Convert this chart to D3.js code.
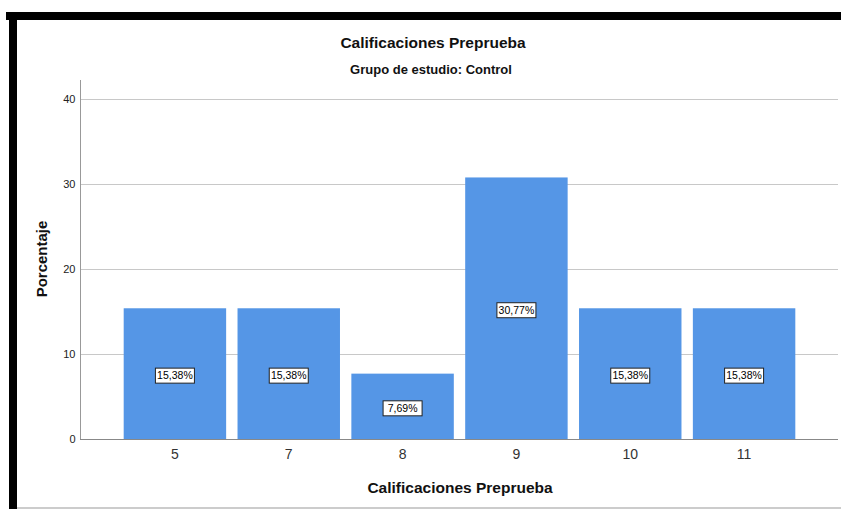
<!DOCTYPE html>
<html><head><meta charset="utf-8">
<script src="https://cdn.jsdelivr.net/npm/d3@7"></script>
<style>html,body{margin:0;padding:0;background:#fff;}svg{display:block;}</style>
</head><body>
<svg id="chart" width="841" height="509"></svg>
<script>
const categories = ["5","7","8","9","10","11"];
const percentages = [15.38, 15.38, 7.69, 30.77, 15.38, 15.38];
const labels = ["15,38%","15,38%","7,69%","30,77%","15,38%","15,38%"];
const yTicks = [0,10,20,30,40];

const svg = d3.select("#chart");
const font = "Arial, 'Liberation Sans', sans-serif";

// frame
svg.append("rect").attr("x",6).attr("y",12).attr("width",835).attr("height",8).attr("fill","#000");
svg.append("rect").attr("x",9).attr("y",12).attr("width",8).attr("height",497).attr("fill","#000");
svg.append("line").attr("x1",17).attr("x2",841).attr("y1",508).attr("y2",508).attr("stroke","#999").attr("stroke-width",1);

const y = d3.scaleLinear().domain([0,40]).range([439,99]);
const x = d3.scaleBand().domain(categories).range([118,801]).paddingInner(0.1).paddingOuter(0.05);

// gridlines
svg.append("g").selectAll("line").data(yTicks.filter(d=>d>0)).join("line")
  .attr("x1",81).attr("x2",838).attr("y1",d=>Math.round(y(d))+0.5).attr("y2",d=>Math.round(y(d))+0.5)
  .attr("stroke","#c8c8c8").attr("stroke-width",1);

// y axis
const yAxis = svg.append("g").attr("transform","translate(80.5,0)")
  .call(d3.axisLeft(y).tickValues(yTicks).tickSize(0).tickPadding(5));
yAxis.select(".domain").attr("d","M0,80V439.5").attr("stroke","#999");
yAxis.selectAll("text").attr("font-family",font).attr("font-size",11).attr("fill","#222");

// bars
svg.append("g").selectAll("rect").data(categories).join("rect")
  .attr("x",d=>x(d)).attr("width",x.bandwidth())
  .attr("y",(d,i)=>y(percentages[i])).attr("height",(d,i)=>y(0)-y(percentages[i]))
  .attr("fill","#5596e6");

// x axis
const xAxis = svg.append("g").attr("transform","translate(0,439.5)")
  .call(d3.axisBottom(x).tickSize(0).tickPadding(10));
xAxis.select(".domain").attr("d","M80,0H838").attr("stroke","#888");
xAxis.selectAll("text").attr("font-family",font).attr("font-size",14).attr("fill","#333");

// value labels
const lg = svg.append("g").selectAll("g").data(categories).join("g")
  .attr("transform",(d,i)=>`translate(${x(d)+x.bandwidth()/2},${(y(percentages[i])+y(0))/2+2})`);
lg.append("rect").attr("x",-19.5).attr("y",-7.5).attr("width",39).attr("height",15)
  .attr("fill","#fff").attr("stroke","#222").attr("stroke-width",1);
lg.append("text").text((d,i)=>labels[i]).attr("text-anchor","middle").attr("dy","0.35em")
  .attr("font-family",font).attr("font-size",10.5).attr("fill","#000");

// titles
svg.append("text").text("Calificaciones Preprueba").attr("x",433).attr("y",48)
  .attr("text-anchor","middle").attr("font-family",font).attr("font-size",15.5).attr("font-weight","bold").attr("fill","#111");
svg.append("text").text("Grupo de estudio: Control").attr("x",431).attr("y",74)
  .attr("text-anchor","middle").attr("font-family",font).attr("font-size",13).attr("font-weight","bold").attr("fill","#111");
svg.append("text").text("Calificaciones Preprueba").attr("x",460).attr("y",493)
  .attr("text-anchor","middle").attr("font-family",font).attr("font-size",15.5).attr("font-weight","bold").attr("fill","#111");
svg.append("text").text("Porcentaje").attr("transform","translate(47,259) rotate(-90)")
  .attr("text-anchor","middle").attr("font-family",font).attr("font-size",15).attr("font-weight","bold").attr("fill","#111");
</script>
</body></html>
